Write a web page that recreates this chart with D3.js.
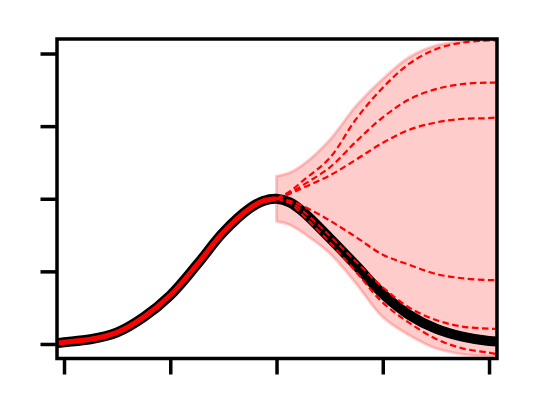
<!DOCTYPE html>
<html>
<head>
<meta charset="utf-8">
<script src="https://cdn.jsdelivr.net/npm/d3@7"></script>
<style>
  html, body { margin: 0; padding: 0; background: #ffffff; }
  svg { display: block; }
</style>
</head>
<body>
<script>
// ---- data ----
const xTicks = [0, 1, 2, 3, 4];
const yTicks = [0, 1, 2, 3, 4];

// full "truth" curve (black)
const truthX = [-0.066, 0, 0.25, 0.5, 0.75, 1.0, 1.25, 1.5, 1.75, 1.875, 2.0, 2.125, 2.25, 2.5, 2.75, 3.0, 3.25, 3.5, 3.75, 4.0, 4.075];
const truthY = [0.012, 0.025, 0.065, 0.16, 0.37, 0.67, 1.09, 1.54, 1.87, 1.97, 2.00, 1.95, 1.82, 1.46, 1.08, 0.69, 0.40, 0.21, 0.10, 0.04, 0.035];

// observed part (red solid)
const obsX = [-0.066, 0, 0.25, 0.5, 0.75, 1.0, 1.25, 1.5, 1.75, 1.875, 2.0];
const obsY = [0.012, 0.025, 0.065, 0.16, 0.37, 0.67, 1.09, 1.54, 1.87, 1.97, 2.00];

// forecast grid
const fcX = [2.0, 2.125, 2.25, 2.5, 2.75, 3.0, 3.25, 3.5, 3.75, 4.0, 4.075];
const fc1 = [2.0, 2.10, 2.25, 2.56, 3.10, 3.53, 3.86, 4.06, 4.15, 4.18, 4.18];
const fc2 = [2.0, 2.08, 2.19, 2.43, 2.79, 3.12, 3.37, 3.51, 3.58, 3.60, 3.60];
const fc3 = [2.0, 2.07, 2.15, 2.32, 2.54, 2.77, 2.95, 3.05, 3.10, 3.11, 3.12];
const fc4 = [2.0, 1.97, 1.90, 1.70, 1.47, 1.23, 1.09, 0.965, 0.905, 0.88, 0.88];
const fc5 = [2.0, 1.96, 1.83, 1.49, 1.13, 0.78, 0.50, 0.33, 0.24, 0.21, 0.21];
const fc6 = [2.0, 1.94, 1.77, 1.40, 0.99, 0.57, 0.29, 0.07, -0.06, -0.12, -0.14];
const bandUpper = [2.31, 2.36, 2.47, 2.81, 3.28, 3.65, 3.95, 4.11, 4.17, 4.19, 4.19];
const bandLower = [1.69, 1.64, 1.53, 1.25, 0.83, 0.37, 0.12, -0.06, -0.14, -0.17, -0.175];

// ---- layout ----
const W = 536, H = 416;
const L = 57, R = 497, T = 39, B = 358.5;

const x = d3.scaleLinear().domain([-0.066, 4.075]).range([L, R]);
const y = d3.scaleLinear().domain([-0.2, 4.2]).range([B, T]);

const svg = d3.select("body").append("svg")
  .attr("width", W).attr("height", H)
  .style("background", "#fff");

svg.append("defs").append("clipPath").attr("id", "plotclip")
  .append("rect").attr("x", L).attr("y", T).attr("width", R - L).attr("height", B - T);

const plot = svg.append("g").attr("clip-path", "url(#plotclip)");

const zip = (xs, ys) => xs.map((v, i) => [v, ys[i]]);
const curve = d3.curveCatmullRom.alpha(0.5);
const line = d3.line().x(d => x(d[0])).y(d => y(d[1])).curve(curve);

// band
const area = d3.area()
  .x(d => x(d[0])).y0(d => y(d[2])).y1(d => y(d[1]))
  .curve(curve);
const bandData = fcX.map((v, i) => [v, bandUpper[i], bandLower[i]]);
plot.append("path")
  .attr("d", area(bandData) + "Z")
  .attr("fill", "rgba(255,0,0,0.2)")
  .attr("stroke", "rgba(255,0,0,0.2)")
  .attr("stroke-width", 3)
  .attr("stroke-linejoin", "miter");

// truth (black thick)
plot.append("path")
  .attr("d", line(zip(truthX, truthY)))
  .attr("fill", "none").attr("stroke", "#000").attr("stroke-width", 10)
  .attr("stroke-linejoin", "round");

// observed (red solid)
plot.append("path")
  .attr("d", line(zip(obsX, obsY)))
  .attr("fill", "none").attr("stroke", "#ff0000").attr("stroke-width", 5)
  .attr("stroke-linejoin", "round");

// forecast samples (red dashed)
[fc1, fc2, fc3, fc4, fc5, fc6].forEach(s => {
  plot.append("path")
    .attr("d", line(zip(fcX, s)))
    .attr("fill", "none").attr("stroke", "#ff0000").attr("stroke-width", 2.2)
    .attr("stroke-dasharray", "6.5,3.5");
});

// axes (ticks only, no labels)
const yAxis = d3.axisLeft(y).tickValues(yTicks).tickSize(16.5).tickSizeOuter(0).tickFormat("");
const xAxis = d3.axisBottom(x).tickValues(xTicks).tickSize(16).tickSizeOuter(0).tickFormat("");

const gy = svg.append("g").attr("transform", `translate(${L},0)`).call(yAxis);
const gx = svg.append("g").attr("transform", `translate(0,${B})`).call(xAxis);
[gy, gx].forEach(g => {
  g.select(".domain").remove();
  g.selectAll(".tick line").attr("stroke", "#000").attr("stroke-width", 3.5);
});

// spines
svg.append("rect")
  .attr("x", L).attr("y", T).attr("width", R - L).attr("height", B - T)
  .attr("fill", "none").attr("stroke", "#000").attr("stroke-width", 3.5)
  .attr("stroke-linejoin", "miter");
</script>
</body>
</html>
